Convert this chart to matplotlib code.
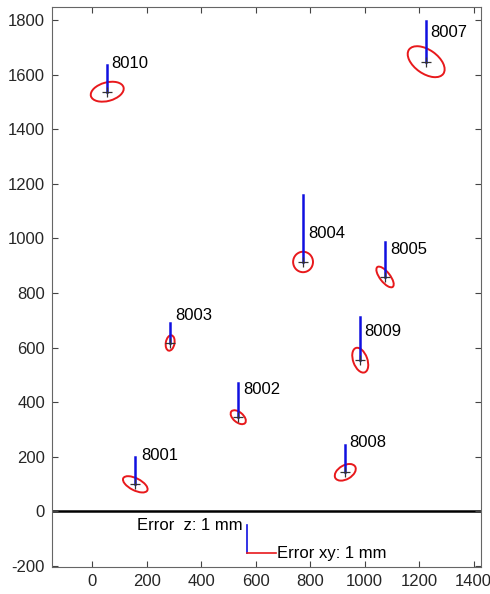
import numpy as np
import matplotlib
matplotlib.use("Agg")
import matplotlib.pyplot as plt
from matplotlib.patches import Ellipse

plt.rcParams['font.family'] = ['Liberation Sans', 'DejaVu Sans']
plt.rcParams['axes.unicode_minus'] = False

# point data (scaled plot units)
ids = ['8001', '8002', '8003', '8004', '8005', '8007', '8008', '8009', '8010']
xs = [158, 536, 286, 774, 1075, 1226, 929, 984, 55]
ys = [99, 345, 617, 914, 859, 1648, 143, 554, 1538]
dz = [99, 125, 73, 246, 128, 150, 99, 158, 99]          # z error bar (scaled)
ell_w = [99, 66, 57, 73, 92, 154, 84, 95, 124]         # xy error ellipse
ell_h = [44, 37, 32, 75, 37, 87, 51, 52, 68]
ell_ang = [-27, -40, 80, 0, -52, -35, 30, 110, 15]
lab_x = [180, 554, 305, 793, 1094, 1240, 943, 998, 70]
lab_y = [205, 448, 716, 1020, 958, 1754, 253, 660, 1640]

# scale legend
leg_x, leg_y = 569, -154
leg_z = 103
leg_xy = 106

fig = plt.figure(figsize=(4.9, 5.94), dpi=100)
ax = fig.add_axes([0.106, 0.045, 0.876, 0.943])

ax.axhline(0, color='black', lw=1.8, zorder=1)

for i in range(len(ids)):
    ax.add_patch(Ellipse((xs[i], ys[i]), ell_w[i], ell_h[i], angle=ell_ang[i],
                         fill=False, ec='#e8191c', lw=1.4, zorder=2))
    ax.plot([xs[i], xs[i]], [ys[i], ys[i] + dz[i]], color='#1010e0', lw=1.8, zorder=3)
    ax.plot(xs[i], ys[i], marker='+', ms=7, mew=0.9, color='#333333', zorder=4)
    ax.text(lab_x[i], lab_y[i], ids[i], fontsize=12, ha='left', va='center')

ax.plot([leg_x, leg_x], [leg_y, leg_y + leg_z], color='#1010e0', lw=1.2)
ax.plot([leg_x, leg_x + leg_xy], [leg_y, leg_y], color='#e8191c', lw=1.2)
ax.text(leg_x - 18, leg_y + leg_z, 'Error  z: 1 mm', fontsize=12, ha='right', va='center')
ax.text(leg_x + leg_xy + 5, leg_y, 'Error xy: 1 mm', fontsize=12, ha='left', va='center')

ax.set_xlim(-148, 1428)
ax.set_ylim(-205, 1848)
ax.set_xticks(np.arange(0, 1401, 200))
ax.set_yticks(np.arange(-200, 1801, 200))
ax.tick_params(direction='in', top=True, right=True, length=4, width=0.8, pad=5,
               colors='#444444', labelsize=12, labelcolor='#262626')
for s in ax.spines.values():
    s.set_color('#666666')
    s.set_linewidth(0.8)

fig.savefig('out.png', dpi=100)
